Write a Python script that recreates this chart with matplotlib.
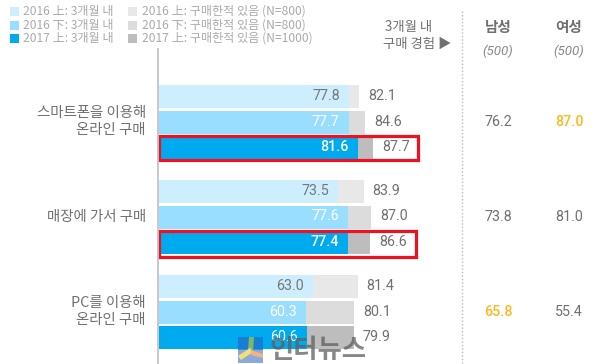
"""3개월 내 구매 경험 차트"""
import matplotlib
matplotlib.use("Agg")
import matplotlib.pyplot as plt
from matplotlib.patches import Polygon, Rectangle

KR = ["Noto Sans CJK KR", "DejaVu Sans"]
NUM = ["Roboto", "Noto Sans CJK KR"]

# ── 데이터 ──────────────────────────────────
categories = ["스마트폰을 이용해\n온라인 구매", "매장에 가서 구매", "PC를 이용해\n온라인 구매"]
within_3m = [[77.8, 77.7, 81.6], [73.5, 77.6, 77.4], [63.0, 60.3, 60.6]]
ever_bought = [[82.1, 84.6, 87.7], [83.9, 87.0, 86.6], [81.4, 80.1, 79.9]]
male = ["76.2", "73.8", "65.8"]
female = ["87.0", "81.0", "55.4"]
highlight = [(0, 1), (2, 0)]  # (행, 0=남성/1=여성)
legend_left = ["2016 上: 3개월 내", "2016 下: 3개월 내", "2017 上: 3개월 내"]
legend_right = ["2016 上: 구매한적 있음 (N=800)", "2016 下: 구매한적 있음 (N=800)", "2017 上: 구매한적 있음 (N=1000)"]

# ── 색상 ────────────────────────────────────
BLUES = ["#cceeff", "#99ddff", "#00aaee"]
GRAYS = ["#e8e8e8", "#dcdcdc", "#bdbdbd"]
INNER_TXT = ["#777777", "#ffffff", "#ffffff"]
TEXT = "#707070"
LEGEND_TXT = "#aaaaaa"
PX_PER_UNIT = 2.44
X0 = 159

fig = plt.figure(figsize=(6, 3.64), dpi=100, facecolor="white")

# 막대: x축은 값 단위, y축은 픽셀 단위
ax = fig.add_axes([X0 / 600, 0, 300 / 600, 1])
ax.set_xlim(0, 300 / PX_PER_UNIT)
ax.set_ylim(364, 0)
ax.axis("off")

# 텍스트/장식 레이어 (픽셀 좌표)
ov = fig.add_axes([0, 0, 1, 1], zorder=5)
ov.set_xlim(0, 600)
ov.set_ylim(364, 0)
ov.axis("off")
ov.patch.set_alpha(0)

ov.plot([158, 158], [49, 364], color="#c4c4c4", lw=1.3)
ov.plot([462, 462], [11, 364], color="#bbbbbb", lw=1, ls=(0, (1, 1.5)))

BAR_H = 23
for g, cat in enumerate(categories):
    gy = 85 + g * 95
    for b in range(3):
        y = gy + b * 25.5
        yc = y + BAR_H / 2
        v_in, v_out = within_3m[g][b], ever_bought[g][b]
        ax.barh(yc, v_out, height=BAR_H, color=GRAYS[b], zorder=1)
        ax.barh(yc, v_in, height=BAR_H, color=BLUES[b], zorder=2)
        px_in = X0 + v_in * PX_PER_UNIT
        px_out = X0 + v_out * PX_PER_UNIT
        ov.text(px_in - 9, yc - 0.5, f"{v_in:.1f}", ha="right", va="center", family=NUM,
                fontsize=10.3, color=INNER_TXT[b], fontweight=500 if (b == 2 and g < 2) else "normal")
        ov.text(px_out + 9, yc - 0.5, f"{v_out:.1f}", ha="left", va="center", family=NUM,
                fontsize=10.3, color=TEXT)
    ov.text(146, gy + 36.5, cat, ha="right", va="center", multialignment="right", family=KR,
            fontsize=10.4, color=TEXT, linespacing=1.2)
    for col_x, vals, idx in [(498, male, 0), (569, female, 1)]:
        hot = (g, idx) in highlight
        ov.text(col_x, gy + 37, vals[g], ha="center", va="center", family=NUM, fontsize=10.3,
                color="#ffb81c" if hot else TEXT, fontweight=500 if hot else "normal")

# 빨간 강조 박스
ov.add_patch(Rectangle((158.5, 135.5), 259, 24, fill=False, ec="#ee1122", lw=2.3))
ov.add_patch(Rectangle((158.5, 231), 257, 25.5, fill=False, ec="#ee1122", lw=2.3))

# 범례
legend_y = [11, 25, 38.5]
for i, y in enumerate(legend_y):
    ov.add_patch(Rectangle((10, y - 4.5), 9, 9, color=BLUES[i], lw=0))
    ov.text(23, y, legend_left[i], va="center", family=KR, fontsize=8.7, color=LEGEND_TXT)
    ov.add_patch(Rectangle((128, y - 4.5), 9, 9, color=GRAYS[i], lw=0))
    ov.text(142, y, legend_right[i], va="center", family=KR, fontsize=8.7, color=LEGEND_TXT)

# 오른쪽 헤더
ov.text(409, 27, "3개월 내", ha="center", va="center", family=KR, fontsize=9.6, color=TEXT)
ov.text(417, 44, "구매 경험 ▶", ha="center", va="center", family=KR, fontsize=9.6, color=TEXT)
for col_x, name in [(498, "남성"), (569, "여성")]:
    ov.text(col_x, 27, name, ha="center", va="center", family=KR, fontsize=10.5,
            color=TEXT, fontweight="bold")
    ov.text(col_x, 51, "(500)", ha="center", va="center", family=NUM, fontsize=9.6,
            color="#888888", style="italic")

# 워터마크
ov.add_patch(Rectangle((238, 337), 25, 13, color="#1a78d0", alpha=0.85, lw=0))
ov.add_patch(Rectangle((238, 350), 25, 13, color="#8aaad8", lw=0))
ov.add_patch(Polygon([(248, 350), (249, 337), (254, 337), (253, 352)], color="#7db86a", lw=0))
ov.add_patch(Polygon([(238, 356), (250, 348), (253, 352), (241, 360)], color="#f4de78", lw=0))
ov.add_patch(Polygon([(251, 350), (263, 354), (263, 358), (251, 355)], color="#f4b183", lw=0))
ov.text(270, 350, "인터뉴스", va="center", family=KR, fontsize=19, color="#5f5f5f",
        fontweight="bold", alpha=0.75)

fig.savefig("out.png", dpi=100, facecolor="white")
plt.close(fig)
